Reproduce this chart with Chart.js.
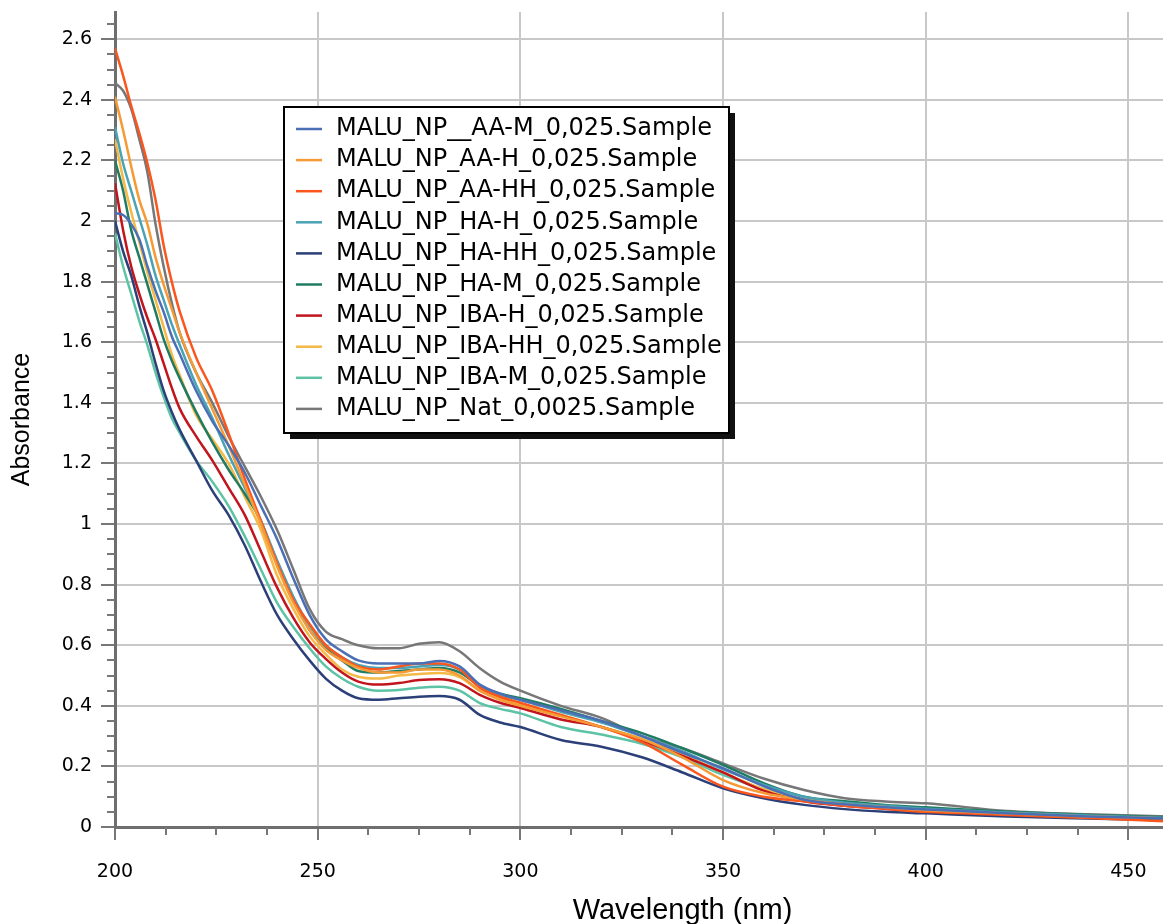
<!DOCTYPE html>
<html>
<head>
<meta charset="utf-8">
<script src="https://cdn.jsdelivr.net/npm/chart.js@4.4.0/dist/chart.umd.min.js"></script>
<style>
  html, body { margin: 0; padding: 0; background: #fff; overflow: hidden; }
  #wrap { width: 1250px; height: 928px; }
</style>
</head>
<body>
<div id="wrap"><canvas id="chart" width="1250" height="928"></canvas></div>
<script>
// wavelength grid (nm) shared by all spectra
const wavelengths = [200, 202, 204, 206, 208, 210, 212, 214, 216, 220, 224, 228, 232, 236, 240, 244, 248, 252, 256, 260,
  265, 270, 275, 280, 285, 290, 295, 300, 310, 320, 330, 340, 350, 360, 370, 380, 390, 400, 420, 440, 460];

// absorbance values
const aaM = [2.026, 2.02, 1.99, 1.94, 1.85, 1.77, 1.70, 1.62, 1.56, 1.44, 1.34, 1.26, 1.17, 1.06, 0.95, 0.82, 0.70, 0.62, 0.58, 0.55,
  0.54, 0.54, 0.54, 0.548, 0.53, 0.47, 0.44, 0.42, 0.385, 0.35, 0.30, 0.245, 0.194, 0.135, 0.09, 0.075, 0.065, 0.058, 0.045, 0.035, 0.028];
const aaH = [2.41, 2.30, 2.18, 2.07, 1.99, 1.88, 1.79, 1.71, 1.63, 1.50, 1.38, 1.26, 1.13, 1.00, 0.86, 0.74, 0.65, 0.585, 0.55, 0.525,
  0.51, 0.51, 0.52, 0.52, 0.50, 0.45, 0.42, 0.40, 0.365, 0.33, 0.29, 0.23, 0.155, 0.112, 0.09, 0.075, 0.065, 0.055, 0.045, 0.035, 0.028];
const aaHH = [2.57, 2.48, 2.38, 2.29, 2.19, 2.07, 1.92, 1.80, 1.70, 1.55, 1.44, 1.30, 1.15, 1.01, 0.87, 0.75, 0.67, 0.60, 0.56, 0.53,
  0.52, 0.53, 0.54, 0.54, 0.52, 0.46, 0.43, 0.41, 0.37, 0.33, 0.28, 0.205, 0.133, 0.10, 0.085, 0.07, 0.06, 0.05, 0.04, 0.03, 0.018];
const haH = [2.31, 2.19, 2.10, 2.01, 1.92, 1.82, 1.74, 1.66, 1.59, 1.46, 1.35, 1.23, 1.12, 1.01, 0.88, 0.76, 0.665, 0.60, 0.56, 0.535,
  0.525, 0.525, 0.53, 0.535, 0.52, 0.465, 0.435, 0.42, 0.38, 0.345, 0.30, 0.25, 0.19, 0.14, 0.10, 0.08, 0.07, 0.06, 0.048, 0.038, 0.03];
const haHH = [2.00, 1.90, 1.82, 1.72, 1.63, 1.53, 1.44, 1.37, 1.31, 1.21, 1.11, 1.03, 0.93, 0.81, 0.70, 0.62, 0.55, 0.49, 0.45, 0.425,
  0.42, 0.425, 0.43, 0.432, 0.42, 0.37, 0.345, 0.33, 0.287, 0.265, 0.23, 0.18, 0.128, 0.095, 0.073, 0.059, 0.05, 0.045, 0.035, 0.028, 0.022];
const haM = [2.20, 2.10, 1.97, 1.88, 1.79, 1.70, 1.61, 1.54, 1.48, 1.37, 1.27, 1.18, 1.10, 1.01, 0.87, 0.75, 0.65, 0.59, 0.55, 0.515,
  0.51, 0.515, 0.52, 0.525, 0.51, 0.465, 0.44, 0.425, 0.39, 0.35, 0.31, 0.26, 0.205, 0.145, 0.10, 0.085, 0.073, 0.065, 0.05, 0.04, 0.032];
const ibaH = [2.125, 1.97, 1.85, 1.76, 1.68, 1.61, 1.53, 1.45, 1.38, 1.29, 1.21, 1.12, 1.03, 0.91, 0.79, 0.69, 0.61, 0.555, 0.51, 0.48,
  0.47, 0.475, 0.485, 0.488, 0.475, 0.436, 0.41, 0.393, 0.355, 0.33, 0.285, 0.235, 0.18, 0.12, 0.085, 0.07, 0.06, 0.05, 0.04, 0.032, 0.025];
const ibaHH = [2.27, 2.14, 2.03, 1.93, 1.83, 1.74, 1.65, 1.56, 1.49, 1.36, 1.28, 1.20, 1.09, 0.98, 0.83, 0.72, 0.63, 0.57, 0.52, 0.496,
  0.49, 0.50, 0.505, 0.508, 0.495, 0.45, 0.425, 0.405, 0.37, 0.33, 0.29, 0.24, 0.18, 0.125, 0.09, 0.077, 0.067, 0.058, 0.045, 0.036, 0.028];
const ibaM = [1.96, 1.85, 1.76, 1.67, 1.59, 1.50, 1.42, 1.35, 1.30, 1.21, 1.14, 1.06, 0.96, 0.85, 0.74, 0.66, 0.59, 0.53, 0.49, 0.463,
  0.45, 0.452, 0.46, 0.463, 0.45, 0.409, 0.39, 0.375, 0.33, 0.305, 0.275, 0.23, 0.172, 0.125, 0.09, 0.075, 0.065, 0.055, 0.043, 0.034, 0.027];
const nat = [2.456, 2.43, 2.37, 2.27, 2.16, 1.99, 1.85, 1.73, 1.63, 1.50, 1.40, 1.29, 1.19, 1.09, 0.98, 0.85, 0.72, 0.645, 0.62, 0.60,
  0.59, 0.59, 0.605, 0.61, 0.58, 0.524, 0.48, 0.45, 0.40, 0.36, 0.30, 0.26, 0.21, 0.16, 0.122, 0.095, 0.084, 0.078, 0.053, 0.042, 0.035];

const seriesNames = [
  'MALU_NP__AA-M_0,025.Sample',
  'MALU_NP_AA-H_0,025.Sample',
  'MALU_NP_AA-HH_0,025.Sample',
  'MALU_NP_HA-H_0,025.Sample',
  'MALU_NP_HA-HH_0,025.Sample',
  'MALU_NP_HA-M_0,025.Sample',
  'MALU_NP_IBA-H_0,025.Sample',
  'MALU_NP_IBA-HH_0,025.Sample',
  'MALU_NP_IBA-M_0,025.Sample',
  'MALU_NP_Nat_0,0025.Sample'
];
const seriesValues = [aaM, aaH, aaHH, haH, haHH, haM, ibaH, ibaHH, ibaM, nat];
const seriesColors = ['#4a6fb5', '#f59a35', '#fa561e', '#4aa3b5', '#2b3f78', '#1f7c62', '#c2141c', '#f4b947', '#5cc3a5', '#777777'];

const xTicks = [200, 250, 300, 350, 400, 450];
const yTicks = [0, 0.2, 0.4, 0.6, 0.8, 1, 1.2, 1.4, 1.6, 1.8, 2, 2.2, 2.4, 2.6];

const datasets = seriesNames.map((name, i) => ({
  label: name,
  data: wavelengths.map((w, j) => ({ x: w, y: seriesValues[i][j] })),
  borderColor: seriesColors[i],
  backgroundColor: seriesColors[i],
  borderWidth: 2.5,
  pointRadius: 0,
  cubicInterpolationMode: 'monotone',
  fill: false
}));

// small unlabeled ticks outside the axes
const minorTicks = {
  id: 'minorTicks',
  afterDraw(chart) {
    const { ctx, chartArea: a, scales: { x, y } } = chart;
    ctx.save();
    ctx.strokeStyle = '#777';
    ctx.lineWidth = 2;
    ctx.beginPath();
    for (let k = 1; k * 0.05 <= y.max; k++) {
      if (k % 4 === 0) continue;
      const py = Math.round(y.getPixelForValue(k * 0.05));
      ctx.moveTo(a.left - 8, py);
      ctx.lineTo(a.left, py);
    }
    for (let k = 1; 200 + k * 12.5 <= x.max; k++) {
      if (k % 4 === 0) continue;
      const px = Math.round(x.getPixelForValue(200 + k * 12.5));
      ctx.moveTo(px, a.bottom);
      ctx.lineTo(px, a.bottom + 8);
    }
    ctx.stroke();
    ctx.restore();
  }
};

// boxed legend with drop shadow inside the plot
const legendBox = {
  id: 'legendBox',
  afterDraw(chart) {
    const { ctx, chartArea: a } = chart;
    const bx = a.left + 169, by = a.top + 95, bw = 445, bh = 326;
    ctx.save();
    ctx.fillStyle = '#111';
    ctx.fillRect(bx + 6, by + 6, bw, bh);
    ctx.fillStyle = '#fff';
    ctx.fillRect(bx, by, bw, bh);
    ctx.strokeStyle = '#000';
    ctx.lineWidth = 2;
    ctx.strokeRect(bx, by, bw, bh);
    ctx.font = '24px "DejaVu Sans"';
    ctx.textBaseline = 'middle';
    chart.data.datasets.forEach((ds, i) => {
      const ly = by + 22 + i * 31.1;
      ctx.strokeStyle = ds.borderColor;
      ctx.lineWidth = 2.5;
      ctx.beginPath();
      ctx.moveTo(bx + 12, ly);
      ctx.lineTo(bx + 38, ly);
      ctx.stroke();
      ctx.fillStyle = '#000';
      ctx.fillText(ds.label, bx + 52, ly);
    });
    ctx.restore();
  }
};

new Chart(document.getElementById('chart'), {
  type: 'line',
  data: { datasets },
  plugins: [minorTicks, legendBox],
  options: {
    responsive: false,
    animation: false,
    devicePixelRatio: 1,
    layout: { padding: { top: 12, right: 0, left: 0, bottom: 0 } },
    plugins: { legend: { display: false }, tooltip: { enabled: false } },
    scales: {
      x: {
        type: 'linear',
        min: 200,
        max: 480,
        afterBuildTicks: s => { s.ticks = xTicks.map(v => ({ value: v })); },
        afterFit: s => { s.height = 101; },
        grid: { color: '#c8c8c8', lineWidth: 2, tickLength: 13, tickColor: '#777', tickWidth: 2 },
        border: { color: '#6e6e6e', width: 3 },
        ticks: { color: '#000', font: { family: 'DejaVu Sans', size: 19 }, padding: 21, maxRotation: 0, callback: v => String(v) },
        title: { display: true, text: 'Wavelength (nm)', color: '#000', font: { family: 'Liberation Sans', size: 29 }, padding: { top: 10, bottom: 0 } }
      },
      y: {
        min: 0,
        max: 2.69,
        afterBuildTicks: s => { s.ticks = yTicks.map(v => ({ value: v })); },
        afterFit: s => { s.width = 115; s.paddingTop = 0; },
        grid: { color: '#c8c8c8', lineWidth: 2, tickLength: 14, tickColor: '#777', tickWidth: 2 },
        border: { color: '#6e6e6e', width: 3 },
        ticks: { color: '#000', font: { family: 'DejaVu Sans', size: 19 }, padding: 9, callback: v => String(v) },
        title: { display: true, text: 'Absorbance', color: '#000', font: { family: 'Liberation Sans', size: 25 }, padding: { top: 7, bottom: 4 } }
      }
    }
  }
});
</script>
</body>
</html>
